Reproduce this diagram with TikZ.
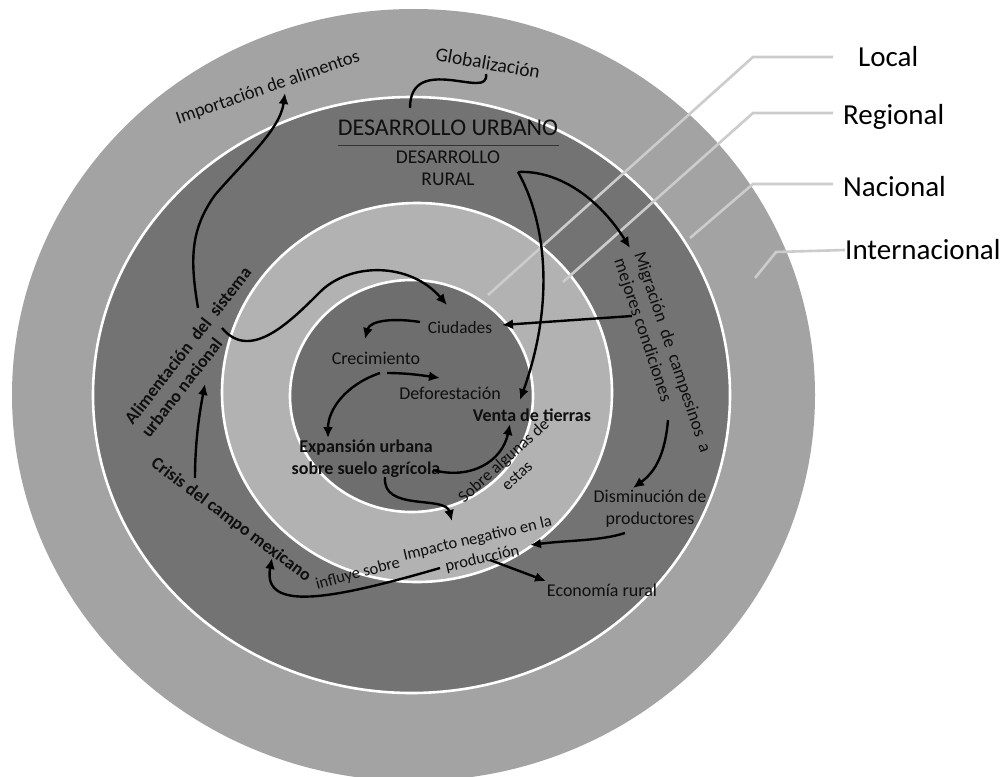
\documentclass[tikz,border=0pt]{standalone}
\usepackage{fontspec}
\setmainfont{Carlito}
\usetikzlibrary{arrows.meta}
\definecolor{ringA}{gray}{0.64}
\definecolor{ringB}{gray}{0.45}
\definecolor{ringC}{gray}{0.70}
\definecolor{ringD}{gray}{0.43}
\definecolor{legc}{gray}{0.80}
\definecolor{ink}{gray}{0.06}
\begin{document}
\begin{tikzpicture}[x=1pt,y=-1pt,
  ring/.style={draw=white,line width=2.6pt},
  legline/.style={draw=legc,line width=2.6pt},
  txt/.style={inner sep=0pt,text=ink,font=\fontsize{18}{22}\selectfont},
  txtb/.style={txt,font=\fontsize{18}{22}\selectfont\bfseries},
  legtxt/.style={inner sep=0pt,text=black,font=\fontsize{29}{33}\selectfont,anchor=west},
  conn/.style={draw=black,line width=2.4pt,-{Latex[length=11pt,width=10pt]}},
  plain/.style={draw=black,line width=2.4pt}]
\useasboundingbox (0,0) rectangle (1003,776);
\clip (0,0) rectangle (1003,776);
\fill[white] (0,0) rectangle (1003,776);
% rings
\fill[ringA] (413.5,395) ellipse [x radius=401.5pt, y radius=386pt];
\filldraw[fill=ringB,ring] (411.5,395) ellipse [x radius=318.5pt, y radius=298pt];
\filldraw[fill=ringC,ring] (417,392.5) ellipse [x radius=195pt, y radius=189.5pt];
\filldraw[fill=ringD,ring] (411.5,396) ellipse [x radius=121.5pt, y radius=116pt];
% legend
\node[legtxt] (local) at (858,57) {Local};
\node[legtxt] (regional) at (843,117) {Regional};
\node[legtxt] (nacional) at (843,187) {Nacional};
\node[legtxt] (internac) at (845,250) {Internacional};
\coordinate (l1) at (488,295); \coordinate (l1b) at (753,57);
\coordinate (r1) at (563,282); \coordinate (r1b) at (753,113);
\coordinate (n1) at (690,238); \coordinate (n1b) at (753,184);
\coordinate (i1) at (755,278); \coordinate (i1b) at (776,252);
\draw[legline] (l1) -- (l1b) -- ([xshift=-25pt]local.west |- l1b);
\draw[legline] (r1) -- (r1b) -- ([xshift=-10pt]regional.west |- r1b);
\draw[legline] (n1) -- (n1b) -- ([xshift=-10pt]nacional.west |- n1b);
\draw[legline] (i1) -- (i1b) -- (internac.west);
% texts
\node[txt,font=\fontsize{19.5}{23}\selectfont,rotate=-10] (glob) at (488,63) {Globalización};
\node[txt,font=\fontsize{18.5}{22}\selectfont,rotate=19] (import) at (268,88) {Importación de alimentos};
\node[txt,font=\fontsize{24}{27}\selectfont] (du) at (448,128) {DESARROLLO URBANO};
\coordinate (ul1) at (338,145); \coordinate (ul2) at (559,145);
\draw[black!80,line width=1pt] (ul1) -- (ul2);
\node[txt,font=\fontsize{19.5}{22}\selectfont,align=center] (dr) at (448,168) {DESARROLLO\\RURAL};
\node[txtb,font=\fontsize{17.8}{21}\selectfont\bfseries,rotate=52,align=left] (alim) at (196,352) {Alimentación\ \ del\ \ sistema\\urbano nacional};
\node[txt,font=\fontsize{17.3}{21}\selectfont] (ciud) at (460,328) {Ciudades};
\node[txt] (crec) at (376,358) {Crecimiento};
\node[txt] (defo) at (450,393) {Deforestación};
\node[txtb] (venta) at (532,415) {Venta de tierras};
\node[txtb,align=center] (exp) at (366,459) {Expansión urbana\\sobre suelo agrícola};
\node[txt,font=\fontsize{16.7}{20}\selectfont,rotate=42,align=center] (sobre) at (510,468) {Sobre algunas de\\estas};
\node[txt,font=\fontsize{16.5}{21}\selectfont,rotate=13,align=center] (imp) at (480,549) {Impacto negativo en la\\producción};
\node[txt,align=center] (dism) at (650,509) {Disminución de\\productores};
\node[txt,font=\fontsize{18}{21}\selectfont,rotate=-71.5,align=left] (migr) at (662,356) {Migración\ \ de\ \ campesinos\ \ a\\mejores condiciones};
\node[txtb,font=\fontsize{17.8}{21}\selectfont\bfseries,rotate=-36.6] (crisis) at (231,520) {Crisis del campo mexicano};
\node[txt,font=\fontsize{16.5}{20}\selectfont,rotate=15] (infl) at (358,574) {influye sobre};
\node[txt] (econ) at (602,590) {Economía rural};
% connectors
\coordinate (g1) at (410,108); \coordinate (g2) at (486,74);
\draw[plain] (g1) .. controls (410,80) and (430,78) .. (450,80) .. controls (470,82) and (488,88) .. (g2);
\coordinate (a1) at (198,308); \coordinate (a2) at (285,93);
\draw[conn] (a1) .. controls (190,260) and (190,230) .. (215,195) .. controls (245,160) and (280,130) .. (a2);
\coordinate (s1) at (222,328); \coordinate (s2) at (447,305);
\draw[conn] (s1) .. controls (250,362) and (290,322) .. (320,292) .. controls (350,262) and (410,262) .. (s2);
\coordinate (c1) at (420,322); \coordinate (c2) at (365,339);
\draw[conn] (c1) .. controls (395,318) and (370,320) .. (c2);
\coordinate (d1) at (387,373); \coordinate (d2) at (440,378);
\draw[conn] (d1) .. controls (405,373) and (420,375) .. (d2);
\coordinate (e1) at (380,373); \coordinate (e2) at (328,438);
\draw[conn] (e1) .. controls (345,385) and (328,410) .. (e2);
\coordinate (v1) at (433,470); \coordinate (v2) at (510,424);
\draw[conn] (v1) .. controls (470,480) and (502,462) .. (v2);
\coordinate (p1) at (385,477); \coordinate (p2) at (452,521);
\draw[conn] (p1) .. controls (382,512) and (445,495) .. (p2);
\coordinate (m1) at (518,172); \coordinate (m2) at (630,248);
\draw[conn] (m1) .. controls (560,170) and (600,200) .. (m2);
\coordinate (t2) at (520,400);
\draw[conn] (m1) .. controls (545,220) and (556,300) .. (t2);
\coordinate (mc1) at (632,316); \coordinate (mc2) at (502,325);
\draw[conn] (mc1) -- (mc2);
\coordinate (md1) at (668,420); \coordinate (md2) at (633,488);
\draw[conn] (md1) .. controls (665,455) and (655,472) .. (md2);
\coordinate (di1) at (625,533); \coordinate (di2) at (530,545);
\draw[conn] (di1) .. controls (600,541) and (570,540) .. (di2);
\coordinate (ec1) at (490,560); \coordinate (ec2) at (546,581);
\draw[conn] (ec1) -- (ec2);
\coordinate (cr1) at (195,478); \coordinate (cr2) at (205,384);
\draw[conn] (cr1) .. controls (195,440) and (200,410) .. (cr2);
\coordinate (in1) at (440,568); \coordinate (in2) at (272,558);
\draw[conn] (in1) .. controls (330,600) and (262,612) .. (in2);
\end{tikzpicture}
\end{document}
